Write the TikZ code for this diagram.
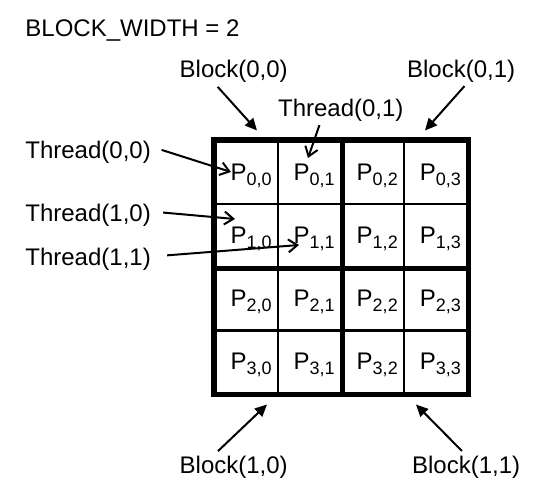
\documentclass[tikz,border=0pt]{standalone}
\usepackage{fontspec}
\setmainfont{Liberation Sans}
\usetikzlibrary{arrows.meta}
\newcommand{\Psub}[1]{P\raisebox{-2.5pt}{\fontsize{9}{9}\selectfont #1}}
\tikzset{ cell/.style = { rectangle
                        , draw
                        , line width   = 1.2pt
                        , minimum size = 31.55pt
                        , inner sep    = 0pt
                        },
          edge/.style = { line width = 2.75pt
                        , line cap   = rect
                        },
          lbl/.style  = { inner sep = 0pt
                        , font      = \fontsize{12}{14}\selectfont
                        , anchor    = base west
                        },
          plbl/.style = { inner sep = 0pt
                        , font      = \fontsize{12}{14}\selectfont
                        },
          blk/.style  = { line width = 1pt
                        , -{Triangle[length=6pt, width=5.5pt]}
                        },
          thr/.style  = { line width = 1pt
                        , -{Straight Barb[length=4.5pt, width=6.5pt]}
                        }
        }
\begin{document}
\begin{tikzpicture}[x=0.5pt, y=-0.5pt]
\useasboundingbox (0,0) rectangle (548,488);
% grid of cells
\foreach \r in {0,...,3} {
  \foreach \c in {0,...,3} {
    \node[cell] (c\r\c) at ({246.55+63.1*\c}, {172.55+63.1*\r}) {};
    \node[plbl] (p\r\c) at ([shift={(4.5,3.5)}]c\r\c.center) {\Psub{\r,\c}};
  }
}
% block borders
\draw[edge] (c00.north west) rectangle (c33.south east);
\draw[edge] (c01.north east) -- (c31.south east);
\draw[edge] (c10.south west) -- (c13.south east);

\node[lbl] (title) at (25,36.5) {BLOCK\_WIDTH = 2};
\node[lbl] (blk00) at (179.3,77) {Block(0,0)};
\node[lbl] (blk01) at (406.7,77) {Block(0,1)};
\node[lbl] (thr01) at (277.7,116) {Thread(0,1)};
\node[lbl] (thr00) at (25,158.3) {Thread(0,0)};
\node[lbl] (thr10) at (25,221) {Thread(1,0)};
\node[lbl] (thr11) at (25,265) {Thread(1,1)};
\node[lbl] (blk10) at (179.3,473) {Block(1,0)};
\node[lbl] (blk11) at (411.7,473) {Block(1,1)};

% arrow tips
\coordinate (b00) at (257,130.5);
\coordinate (b01) at (425,130.5);
\coordinate (b10) at (267,404.5);
\coordinate (b11) at (416,404.5);
\coordinate (t00) at (231,172);
\coordinate (t01) at (308,158);
\coordinate (t10) at (235,219);
\coordinate (t11) at (299,245);

\draw[blk, shorten <=3pt] (blk00.-150) -- (b00);
\draw[blk, shorten <=2.5pt] (blk01.-60) -- (b01);
\draw[blk, shorten <=3pt] (blk10.150) -- (b10);
\draw[blk, shorten <=3pt] (blk11.north) -- (b11);
\draw[thr, shorten <=2pt] (thr01.-150) -- (t01);
\draw[thr, shorten <=5.5pt] (thr00.5) -- (t00);
\draw[thr, shorten <=6pt] (thr10.3) -- (t10);
\draw[thr, shorten <=8pt] (thr11.2) -- (t11);
\end{tikzpicture}
\end{document}
